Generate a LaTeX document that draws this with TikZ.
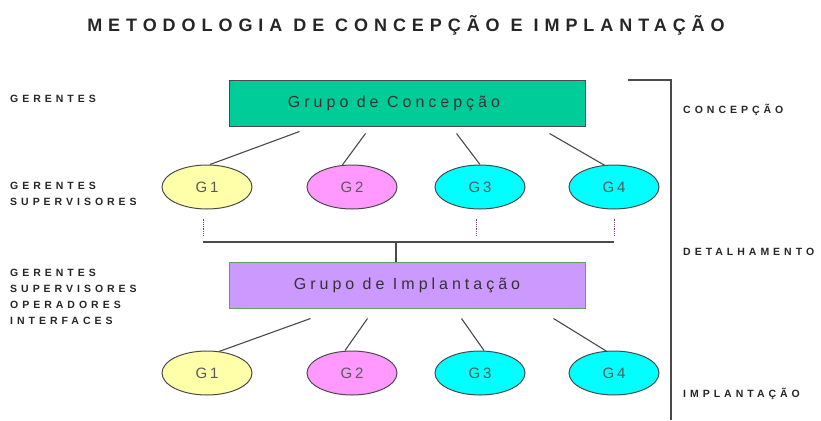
\documentclass[tikz,border=0pt]{standalone}
\usepackage{fontspec}
\setmainfont{Liberation Sans}
\newfontfamily\titlefont[LetterSpace=33]{Liberation Sans}
\newfontfamily\labelfont[LetterSpace=38]{Liberation Sans}
\newfontfamily\boxfont[LetterSpace=25]{Liberation Sans}
\newfontfamily\gfont[LetterSpace=18]{Liberation Sans}
\usepackage{tikz}
\usetikzlibrary{shapes.geometric,positioning,calc}

\definecolor{concgreen}{HTML}{00CC99}
\definecolor{implviolet}{HTML}{CC99FF}
\definecolor{gyellow}{HTML}{FFFFAA}
\definecolor{gpink}{HTML}{FF99FF}
\definecolor{gcyan}{HTML}{00FFFF}
\definecolor{linegray}{HTML}{4A4A4A}

\begin{document}
\begin{tikzpicture}[
    x=1pt, y=-1pt,
    grupo/.style={rectangle, draw=linegray, line width=1pt, minimum width=356pt, minimum height=46pt, font=\boxfont\fontsize{16}{18}\selectfont, text=black!80},
    subgrupo/.style={ellipse, draw=linegray, line width=1pt, minimum width=90pt, minimum height=44pt, inner sep=0pt, font=\gfont\fontsize{15}{17}\selectfont, text=black!65},
    nivel/.style={anchor=base west, inner sep=0pt, align=left, font=\labelfont\bfseries\fontsize{10.5}{16}\selectfont, text=black!85},
    link/.style={draw=linegray, line width=1.1pt},
    guia/.style={draw=violet!40!gray, line width=0.8pt, densely dotted}
]
    \useasboundingbox (0,0) rectangle (821,420);

    % titulo
    \node[anchor=base, inner sep=0pt, font=\titlefont\bfseries\fontsize{18}{20}\selectfont, text=black!85] (titulo) at (406,32) {METODOLOGIA DE CONCEPÇÃO E IMPLANTAÇÃO};

    % niveis a esquerda (base = ultima linha)
    \node[nivel] (ger) at (10,102) {GERENTES};
    \node[nivel] (gersup) at (10,205) {GERENTES\\SUPERVISORES};
    \node[nivel] (todos) at (10,324) {GERENTES\\SUPERVISORES\\OPERADORES\\INTERFACES};

    % grupo de concepcao
    \node[grupo, fill=concgreen] (conc) at (407,103) {Grupo de Concepção\hspace*{26pt}};
    \node[subgrupo, fill=gyellow] (c1) at (207,187) {G1};
    \node[subgrupo, fill=gpink] (c2) at (352,187) {G2};
    \node[subgrupo, fill=gcyan] (c3) at (480,187) {G3};
    \node[subgrupo, fill=gcyan] (c4) at (614,187) {G4};

    \draw[link] ([xshift=71pt,yshift=-5pt]conc.south west) -- ([xshift=3pt]c1.north);
    \draw[link] ([xshift=137pt,yshift=-7pt]conc.south west) -- ([xshift=-10pt,yshift=-1pt]c2.north);
    \draw[link] ([xshift=228pt,yshift=-7pt]conc.south west) -- ([xshift=0pt]c3.north);
    \draw[link] ([xshift=321pt,yshift=-7pt]conc.south west) -- ([xshift=-9pt,yshift=-1pt]c4.north);

    % juncao
    \coordinate (jl) at (203,242);
    \coordinate (jr) at (614,242);
    \coordinate (jm) at (396,242);
    \coordinate (j3) at (476,242);
    \draw[guia] ([yshift=-9pt]c1.south -| jl) -- ([yshift=7pt]jl);
    \draw[guia] ([yshift=-9pt]c3.south -| j3) -- ([yshift=7pt]j3);
    \draw[guia] ([yshift=-9pt]c4.south -| jr) -- ([yshift=7pt]jr);
    \draw[link, line width=1.4pt] (jl) -- (jr);

    % grupo de implantacao
    \node[grupo, fill=implviolet, draw=green!25!gray] (impl) at (407,285) {Grupo de Implantação};
    \draw[link] (jm) -- (jm |- impl.north);
    \node[subgrupo, fill=gyellow] (i1) at (207,373) {G1};
    \node[subgrupo, fill=gpink] (i2) at (352,373) {G2};
    \node[subgrupo, fill=gcyan] (i3) at (480,373) {G3};
    \node[subgrupo, fill=gcyan] (i4) at (614,373) {G4};

    \draw[link] ([xshift=82pt,yshift=-10pt]impl.south west) -- ([xshift=12pt,yshift=-1pt]i1.north);
    \draw[link] ([xshift=139pt,yshift=-10pt]impl.south west) -- ([xshift=-7pt]i2.north);
    \draw[link] ([xshift=233pt,yshift=-10pt]impl.south west) -- ([xshift=4pt]i3.north);
    \draw[link] ([xshift=325pt,yshift=-10pt]impl.south west) -- ([xshift=-7pt,yshift=-1pt]i4.north);

    % fases a direita
    \coordinate (fa) at (628,80);
    \coordinate (fb) at (671,80);
    \coordinate (fc) at (671,420);
    \draw[link, line width=1.4pt] (fa) -- (fb) -- (fc);
    \node[nivel] (fconc) at (683,113) {CONCEPÇÃO};
    \node[nivel] (fdet) at (683,255) {DETALHAMENTO};
    \node[nivel] (fimpl) at (683,397) {IMPLANTAÇÃO};
\end{tikzpicture}
\end{document}
